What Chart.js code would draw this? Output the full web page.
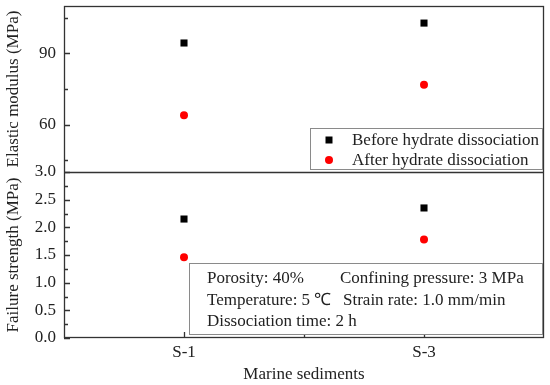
<!DOCTYPE html>
<html>
<head>
<meta charset="utf-8">
<script src="https://cdn.jsdelivr.net/npm/chart.js@4.4.1/dist/chart.umd.min.js"></script>
<style>
  html, body { margin: 0; padding: 0; background: #fff; }
  #wrap { width: 550px; height: 385px; }
</style>
</head>
<body>
<div id="wrap"><canvas id="sedimentChart"></canvas></div>
<script>
// data
const samples = ["S-1", "S-3"];
const modulusBefore = [94.4, 102.8];
const modulusAfter = [63.9, 76.8];
const strengthBefore = [2.15, 2.35];
const strengthAfter = [1.46, 1.78];

const modulusTicks = [60, 90];
const modulusMinor = [45, 75, 105];
const strengthTicks = [0, 0.5, 1, 1.5, 2, 2.5, 3];
const strengthMinor = [0.25, 0.75, 1.25, 1.75, 2.25, 2.75];
const sampleTicks = [1, 2];
const sampleMinor = [1.5];

const legendLabels = ["Before hydrate dissociation", "After hydrate dissociation"];
const conditionLines = [
  ["Porosity: 40%", "Confining pressure: 3 MPa"],
  ["Temperature: 5 ℃", "Strain rate: 1.0 mm/min"],
  ["Dissociation time: 2 h"],
];

const serif = "'Liberation Serif', 'Times New Roman', serif";
const ink = "#222";

function toPoints(values) {
  return values.map((v, i) => ({ x: i + 1, y: v }));
}

// fixed axis width, no extra room for half labels at the ends
function fitLeftAxis(scale) {
  scale.width = 64;
  scale.paddingTop = 0;
  scale.paddingBottom = 0;
}

// frame, inward ticks, legend and test-condition box
const framePlugin = {
  id: "frame",
  afterDatasetsDraw(chart) {
    const ctx = chart.ctx;
    const a = chart.chartArea;
    const top = chart.scales.yTop;
    const bottom = chart.scales.yBottom;
    const x = chart.scales.x;

    ctx.save();
    ctx.strokeStyle = "#333";
    ctx.lineWidth = 1.3;

    // ticks pointing into the plot
    ctx.beginPath();
    const tickY = (scale, list, len) => {
      list.forEach((v) => {
        const py = Math.round(scale.getPixelForValue(v)) + 0.5;
        ctx.moveTo(a.left, py);
        ctx.lineTo(a.left + len, py);
      });
    };
    tickY(top, modulusTicks, 6);
    tickY(top, modulusMinor, 4);
    tickY(bottom, strengthTicks, 6);
    tickY(bottom, strengthMinor, 4);
    sampleTicks.forEach((v) => {
      const px = Math.round(x.getPixelForValue(v)) + 0.5;
      ctx.moveTo(px, a.bottom);
      ctx.lineTo(px, a.bottom - 6);
    });
    sampleMinor.forEach((v) => {
      const px = Math.round(x.getPixelForValue(v)) + 0.5;
      ctx.moveTo(px, a.bottom);
      ctx.lineTo(px, a.bottom - 4);
    });
    ctx.stroke();

    // outer frame and divider between panels
    ctx.strokeRect(a.left + 0.5, a.top + 0.5, a.right - a.left - 1, a.bottom - a.top - 1);
    ctx.beginPath();
    ctx.moveTo(a.left, Math.round(top.bottom) + 0.5);
    ctx.lineTo(a.right, Math.round(top.bottom) + 0.5);
    ctx.stroke();

    ctx.font = "17px " + serif;
    ctx.textBaseline = "middle";
    ctx.textAlign = "left";

    // legend
    ctx.fillStyle = "#fff";
    ctx.fillRect(310, 128, 232, 41);
    ctx.strokeStyle = "#8a8a8a";
    ctx.lineWidth = 1;
    ctx.strokeRect(310.5, 128.5, 232, 41);
    const ds = chart.data.datasets;
    [0, 1].forEach((i) => {
      const cy = 140 + i * 20;
      ctx.fillStyle = ds[i].backgroundColor;
      ctx.beginPath();
      if (ds[i].pointStyle === "rect") {
        ctx.rect(329 - 3.5, cy - 3.5, 7, 7);
      } else {
        ctx.arc(329, cy, 4, 0, Math.PI * 2);
      }
      ctx.fill();
      ctx.fillStyle = ink;
      ctx.fillText(legendLabels[i], 352, cy + 1);
    });

    // test conditions
    ctx.fillStyle = "#fff";
    ctx.fillRect(189, 263, 353, 71);
    ctx.strokeStyle = "#8a8a8a";
    ctx.strokeRect(189.5, 263.5, 353, 71);
    ctx.fillStyle = ink;
    const colX = [[207, 340], [207, 343], [207]];
    conditionLines.forEach((line, r) => {
      line.forEach((txt, c) => {
        ctx.fillText(txt, colX[r][c], 279 + r * 21.5);
      });
    });
    ctx.restore();
  },
};

const sedimentCtx = document.getElementById("sedimentChart");

new Chart(sedimentCtx, {
  type: "scatter",

  data: {
    datasets: [
      {
        label: legendLabels[0],
        data: toPoints(modulusBefore),
        yAxisID: "yTop",
        pointStyle: "rect",
        pointRadius: 5,
        backgroundColor: "#000",
        borderWidth: 0,
      },
      {
        label: legendLabels[1],
        data: toPoints(modulusAfter),
        yAxisID: "yTop",
        pointStyle: "circle",
        pointRadius: 4,
        backgroundColor: "#ff0000",
        borderWidth: 0,
      },
      {
        label: legendLabels[0],
        data: toPoints(strengthBefore),
        yAxisID: "yBottom",
        pointStyle: "rect",
        pointRadius: 5,
        backgroundColor: "#000",
        borderWidth: 0,
      },
      {
        label: legendLabels[1],
        data: toPoints(strengthAfter),
        yAxisID: "yBottom",
        pointStyle: "circle",
        pointRadius: 4,
        backgroundColor: "#ff0000",
        borderWidth: 0,
      },
    ],
  },

  options: {
    responsive: true,
    maintainAspectRatio: false,
    animation: false,

    layout: {
      padding: { left: 0, top: 6, right: 6, bottom: 0 },
    },

    plugins: {
      legend: { display: false },
      tooltip: { enabled: false },
    },

    scales: {
      x: {
        type: "linear",
        min: 0.5,
        max: 2.5,
        afterBuildTicks: (scale) => {
          scale.ticks = sampleTicks.map((v) => ({ value: v }));
        },
        afterFit: (scale) => {
          scale.height = 47;
          scale.paddingLeft = 0;
          scale.paddingRight = 0;
        },
        grid: { display: false, drawTicks: false },
        border: { display: false },
        ticks: {
          padding: 4,
          color: ink,
          font: { family: serif, size: 17 },
          callback: (value) => samples[value - 1],
        },
        title: {
          display: true,
          text: "Marine sediments",
          color: ink,
          padding: { top: 0, bottom: 0 },
          font: { family: serif, size: 17 },
        },
      },

      // listed first so that it is stacked below the modulus panel
      yBottom: {
        type: "linear",
        position: "left",
        stack: "panels",
        stackWeight: 1,
        min: 0,
        max: 3,
        afterBuildTicks: (scale) => {
          scale.ticks = strengthTicks.map((v) => ({ value: v }));
        },
        afterFit: fitLeftAxis,
        grid: { display: false, drawTicks: false },
        border: { display: false },
        ticks: {
          padding: 8,
          autoSkip: false,
          color: ink,
          font: { family: serif, size: 17 },
          callback: (value) => value.toFixed(1),
        },
        title: {
          display: true,
          text: "Failure strength (MPa)",
          color: ink,
          padding: { top: 3, bottom: 0 },
          font: { family: serif, size: 17 },
        },
      },

      yTop: {
        type: "linear",
        position: "left",
        stack: "panels",
        stackWeight: 1,
        min: 40,
        max: 110,
        afterBuildTicks: (scale) => {
          scale.ticks = modulusTicks.map((v) => ({ value: v }));
        },
        afterFit: fitLeftAxis,
        grid: { display: false, drawTicks: false },
        border: { display: false },
        ticks: {
          padding: 8,
          autoSkip: false,
          color: ink,
          font: { family: serif, size: 17 },
        },
        title: {
          display: true,
          text: "Elastic modulus (MPa)",
          color: ink,
          padding: { top: 3, bottom: 0 },
          font: { family: serif, size: 17 },
        },
      },
    },
  },

  plugins: [framePlugin],
});
</script>
</body>
</html>
